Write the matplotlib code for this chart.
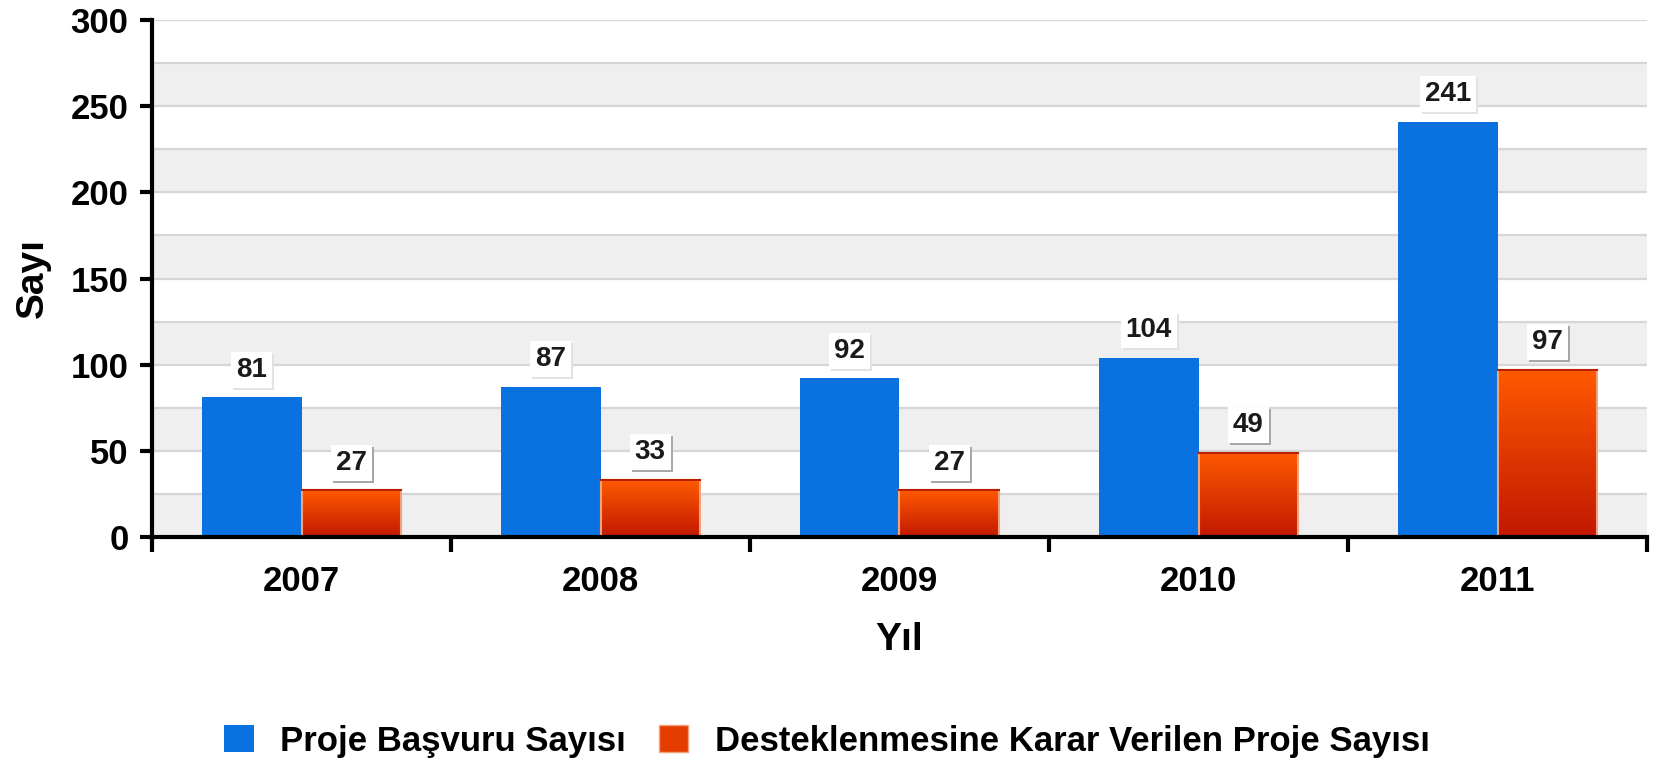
import matplotlib
matplotlib.use("Agg")
import matplotlib.pyplot as plt
import numpy as np
from matplotlib.patches import Patch
from matplotlib.colors import LinearSegmentedColormap

years = ["2007", "2008", "2009", "2010", "2011"]
applications = [81, 87, 92, 104, 241]
supported = [27, 33, 27, 49, 97]
series_names = ["Proje Başvuru Sayısı", "Desteklenmesine Karar Verilen Proje Sayısı"]
y_ticks = [0, 50, 100, 150, 200, 250, 300]

plt.rcParams['font.family'] = ['Liberation Sans', 'DejaVu Sans']
plt.rcParams['font.weight'] = 'bold'

fig = plt.figure(figsize=(16.64, 7.63), dpi=100)
ax = fig.add_axes([152/1664, 1-537/763, 1495/1664, 517/763])

ax.set_ylim(0, 300)
ax.set_xlim(-0.5, len(years) - 0.5)

# background bands and grid
for lo in range(0, 300, 25):
    if (lo // 25) % 2 == 0:
        ax.axhspan(lo, lo + 25, color='#efefef', zorder=0, lw=0)
for v in range(25, 301, 25):
    ax.axhline(v, color='#d6d6d6', lw=1.6, zorder=0.5)

x = np.arange(len(years))
w = 1/3
blue = '#0a72e0'
b1 = ax.bar(x - w/2, applications, w, color=blue, zorder=2, lw=0)
b2 = ax.bar(x + w/2, supported, w, color='none', edgecolor='#f2a37c', lw=1.5, zorder=3)

cmap = LinearSegmentedColormap.from_list('og', ['#c21802', '#e03800', '#ff5a00'])
grad = np.linspace(0, 1, 256).reshape(-1, 1)
for p in b2:
    x0, y0 = p.get_x(), p.get_y()
    im = ax.imshow(grad, extent=[x0, x0 + p.get_width(), y0, y0 + p.get_height()],
                   origin='lower', cmap=cmap, aspect='auto', zorder=2.5)
    im.set_clip_path(p)
    ax.plot([x0, x0 + p.get_width()], [p.get_height()] * 2, color='#b82000', lw=1.5, zorder=3.2)

ax.set_xlim(-0.5, len(years) - 0.5)
ax.set_ylim(0, 300)

for bars, vals, sh in [(b1, applications, '#e2e2e2'), (b2, supported, '#a8a8a8')]:
    for p, v in zip(bars, vals):
        xy = (p.get_x() + p.get_width()/2, p.get_height())
        ax.annotate(str(v), xy, xytext=(1.5, 18.5), textcoords='offset points',
                    ha='center', va='center', fontsize=20, fontweight='bold', color=sh,
                    zorder=4.8, bbox=dict(boxstyle='square,pad=0.18', fc=sh, ec='none'))
        ax.annotate(str(v), xy, xytext=(0, 20), textcoords='offset points',
                    ha='center', va='center', fontsize=20, fontweight='bold',
                    color='#1a1a1a', zorder=5,
                    bbox=dict(boxstyle='square,pad=0.18', fc='white', ec='none'))

# axes styling
for s in ['top', 'right']:
    ax.spines[s].set_visible(False)
for s in ['left', 'bottom']:
    ax.spines[s].set_linewidth(3)
    ax.spines[s].set_color('black')
    ax.spines[s].set_zorder(4)

ax.set_yticks(y_ticks)
ax.set_yticklabels([str(t) for t in y_ticks], fontsize=25, fontweight='bold')
ax.tick_params(axis='y', length=9, width=3, pad=8, color='black')

ax.set_xticks(x)
ax.set_xticklabels(years, fontsize=25, fontweight='bold')
ax.tick_params(axis='x', which='major', length=0, pad=20)
ax.set_xticks(np.arange(len(years) + 1) - 0.5, minor=True)
ax.tick_params(axis='x', which='minor', length=11, width=3, color='black', direction='out')

ax.set_xlabel("Yıl", fontsize=28, fontweight='bold')
ax.xaxis.set_label_coords(0.5, -0.20)
ax.xaxis.label.set_va('center')
ax.set_ylabel("Sayı", fontsize=28, fontweight='bold')
ax.yaxis.set_label_coords(-0.080, 0.5)
ax.yaxis.label.set_va('center')

handles = [Patch(facecolor=blue, edgecolor='none'),
           Patch(facecolor='#e53d00', edgecolor='#f2a37c')]
fig.legend(handles, series_names, loc='center', bbox_to_anchor=(827/1664, 1-741/763),
           ncol=2, frameon=False, prop={'weight': 'bold', 'size': 25},
           handlelength=0.85, handleheight=0.85, handletextpad=0.77, columnspacing=0.94,
           borderpad=0, borderaxespad=0)

fig.savefig('out.png', dpi=100)
